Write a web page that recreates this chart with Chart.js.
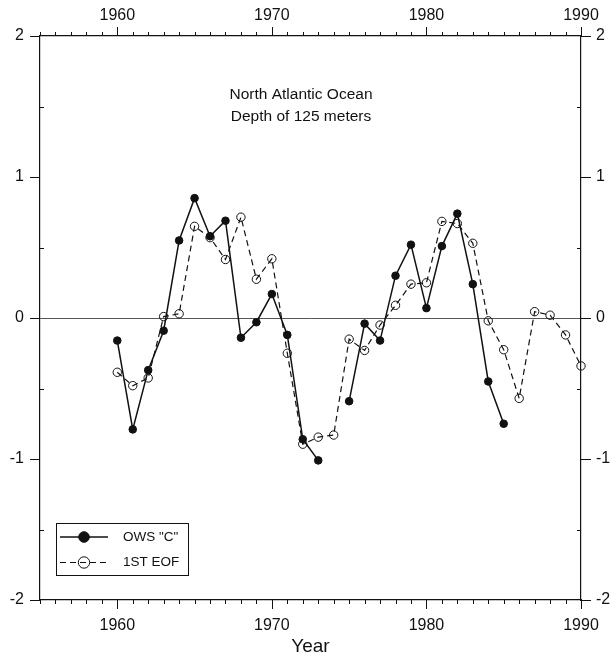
<!DOCTYPE html>
<html>
<head>
<meta charset="utf-8">
<title>North Atlantic Ocean - Depth of 125 meters</title>
<script src="https://cdn.jsdelivr.net/npm/chart.js@4.4.1/dist/chart.umd.min.js"></script>
<style>
	html, body { margin: 0; padding: 0; background: #fff; }
	#chart { display: block; }
</style>
</head>
<body>
<canvas id="chart" width="616" height="658"></canvas>
<script>
/* Anomalías a 125 m: estación OWS "C" contra la primera EOF */

const years = [1960, 1961, 1962, 1963, 1964, 1965, 1966, 1967, 1968, 1969,
	1970, 1971, 1972, 1973, 1974, 1975, 1976, 1977, 1978, 1979,
	1980, 1981, 1982, 1983, 1984, 1985, 1986, 1987, 1988, 1989, 1990];

// OWS "C" (sin dato en 1974 ni después de 1985)
const owsC = [-0.16, -0.79, -0.37, -0.09, 0.55, 0.85, 0.58, 0.69, -0.14, -0.03,
	0.17, -0.12, -0.86, -1.01, null, -0.59, -0.04, -0.16, 0.30, 0.52,
	0.07, 0.51, 0.74, 0.24, -0.45, -0.75, null, null, null, null, null];

// 1ST EOF
const eof1 = [-0.385, -0.48, -0.425, 0.01, 0.03, 0.65, 0.57, 0.415, 0.715, 0.275,
	0.42, -0.25, -0.895, -0.845, -0.83, -0.15, -0.23, -0.05, 0.09, 0.24,
	0.25, 0.685, 0.67, 0.53, -0.02, -0.225, -0.57, 0.045, 0.02, -0.12, -0.34];

const seriesNames = ['OWS "C"', '1ST EOF'];
const xLabels = [1960, 1970, 1980, 1990];
const yLabels = [-2, -1, 0, 1, 2];
const titleLines = ['North Atlantic Ocean', 'Depth of 125 meters'];

const INK = '#111';
const FONT = "'Liberation Sans', Arial, sans-serif";

function toPoints(vals){
	return years.map((y, i) => ({ x: y, y: vals[i] }));
}

// marcas de los ejes: años (menores) y décadas (mayores), enteros hacia fuera y medios hacia dentro
const axisTicks = {
	id: 'axisTicks',
	afterDraw(chart){
		const { ctx, chartArea: ca, scales } = chart;
		const sx = scales.x, sy = scales.y;
		ctx.save();
		ctx.strokeStyle = INK;
		ctx.lineWidth = 1;
		ctx.beginPath();
		for(let yr = sx.min; yr <= sx.max; yr++){
			const px = Math.round(sx.getPixelForValue(yr)) + 0.5;
			const len = yr % 10 === 0 ? 9 : 4;
			ctx.moveTo(px, ca.bottom); ctx.lineTo(px, ca.bottom + len);
			ctx.moveTo(px, ca.top); ctx.lineTo(px, ca.top - len);
		}
		for(let v = sy.min; v <= sy.max; v += 0.5){
			const py = Math.round(sy.getPixelForValue(v)) + 0.5;
			if(Number.isInteger(v)){
				ctx.moveTo(ca.left - 10, py); ctx.lineTo(ca.left, py);
				ctx.moveTo(ca.right, py); ctx.lineTo(ca.right + 10, py);
			} else {
				ctx.moveTo(ca.left, py); ctx.lineTo(ca.left + 4, py);
				ctx.moveTo(ca.right - 4, py); ctx.lineTo(ca.right, py);
			}
		}
		ctx.stroke();
		ctx.restore();
	}
};

// título dentro del área de dibujo
const innerTitle = {
	id: 'innerTitle',
	afterDraw(chart){
		const { ctx, chartArea: ca } = chart;
		ctx.save();
		ctx.fillStyle = INK;
		ctx.font = '15.5px ' + FONT;
		ctx.textAlign = 'center';
		ctx.textBaseline = 'middle';
		titleLines.forEach((t, i) => ctx.fillText(t, ca.left + 261, ca.top + 59 + i * 22));
		ctx.restore();
	}
};

// leyenda en recuadro, abajo a la izquierda (OWS primero)
const boxLegend = {
	id: 'boxLegend',
	afterDraw(chart){
		const { ctx, chartArea: ca } = chart;
		const x0 = ca.left + 16, y0 = ca.bottom - 77, w = 132, h = 52;
		const items = chart.data.datasets.slice().sort((a, b) => a.order - b.order);
		ctx.save();
		ctx.strokeStyle = INK;
		ctx.lineWidth = 1;
		ctx.strokeRect(x0 + 0.5, y0 + 0.5, w, h);
		items.forEach((ds, i) => {
			const cy = y0 + 14 + i * 25.5;
			ctx.beginPath();
			ctx.setLineDash(ds.borderDash || []);
			ctx.lineWidth = ds.borderWidth;
			ctx.strokeStyle = ds.borderColor;
			ctx.moveTo(x0 + 4, cy); ctx.lineTo(x0 + 52, cy);
			ctx.stroke();
			ctx.setLineDash([]);
			ctx.beginPath();
			ctx.arc(x0 + 28, cy, ds.pointRadius + 1.5, 0, Math.PI * 2);
			ctx.fillStyle = ds.pointBackgroundColor;
			ctx.fill();
			ctx.lineWidth = ds.pointBorderWidth;
			ctx.strokeStyle = ds.pointBorderColor;
			ctx.stroke();
			ctx.fillStyle = INK;
			ctx.font = '13.5px ' + FONT;
			ctx.textBaseline = 'middle';
			ctx.fillText(ds.label, x0 + 67, cy);
		});
		ctx.restore();
	}
};

const tickFont = { family: FONT, size: 16 };

new Chart(document.getElementById('chart'), {
	type: 'line',
	data: {
		datasets: [
			{
				label: seriesNames[1],
				data: toPoints(eof1),
				borderColor: INK,
				borderWidth: 1.2,
				borderDash: [6, 4],
				pointRadius: 4.2,
				pointBackgroundColor: 'rgba(0,0,0,0)',
				pointBorderColor: INK,
				pointBorderWidth: 1,
				tension: 0,
				clip: false,
				order: 2
			},
			{
				label: seriesNames[0],
				data: toPoints(owsC),
				borderColor: INK,
				borderWidth: 1.5,
				pointRadius: 3.8,
				pointBackgroundColor: INK,
				pointBorderColor: INK,
				pointBorderWidth: 1,
				tension: 0,
				spanGaps: false,
				clip: false,
				order: 1
			}
		]
	},
	options: {
		responsive: false,
		animation: false,
		devicePixelRatio: 1,
		layout: { padding: 0 },
		plugins: { legend: { display: false }, tooltip: { enabled: false } },
		scales: {
			x: {
				type: 'linear', position: 'bottom', min: 1955, max: 1990,
				afterBuildTicks: s => { s.ticks = xLabels.map(v => ({ value: v })); },
				afterFit: s => { s.height = 58; },
				grid: { display: false, drawTicks: false },
				border: { display: true, color: INK, width: 1.2 },
				ticks: { color: INK, font: tickFont, padding: 16, maxRotation: 0, callback: v => String(v) },
				title: { display: true, text: 'Year', color: INK, font: { family: FONT, size: 19 }, padding: { top: 0, bottom: 0 } }
			},
			x2: {
				type: 'linear', position: 'top', min: 1955, max: 1990,
				afterBuildTicks: s => { s.ticks = xLabels.map(v => ({ value: v })); },
				afterFit: s => { s.height = 36; },
				grid: { display: false, drawTicks: false },
				border: { display: true, color: INK, width: 1.2 },
				ticks: { color: INK, font: tickFont, padding: 11, maxRotation: 0, callback: v => String(v) }
			},
			y: {
				type: 'linear', position: 'left', min: -2, max: 2,
				afterBuildTicks: s => { s.ticks = yLabels.map(v => ({ value: v })); },
				afterFit: s => { s.width = 40; },
				grid: {
					display: true, drawTicks: false, drawOnChartArea: true, lineWidth: 1,
					color: c => (c.tick && c.tick.value === 0) ? '#555' : 'rgba(0,0,0,0)'
				},
				border: { display: true, color: INK, width: 1.2 },
				ticks: { color: INK, font: tickFont, padding: 16 }
			},
			y2: {
				type: 'linear', position: 'right', min: -2, max: 2,
				afterBuildTicks: s => { s.ticks = yLabels.map(v => ({ value: v })); },
				afterFit: s => { s.width = 35; },
				grid: { display: false, drawTicks: false },
				border: { display: true, color: INK, width: 1.2 },
				ticks: { color: INK, font: tickFont, padding: 15 }
			}
		}
	},
	plugins: [axisTicks, innerTitle, boxLegend]
});
</script>
</body>
</html>
